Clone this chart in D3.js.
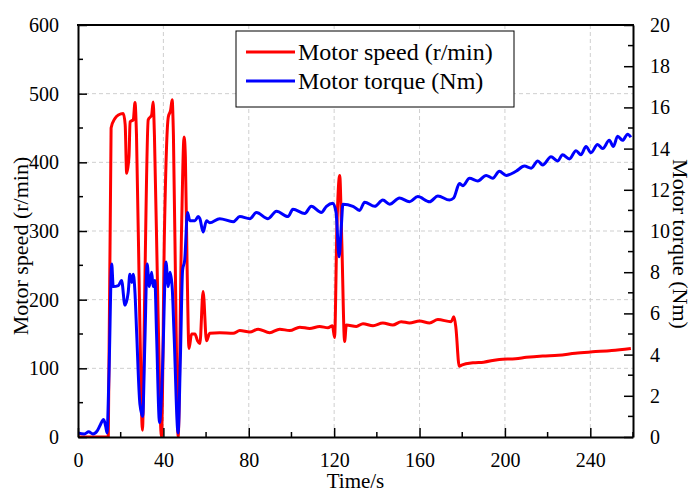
<!DOCTYPE html>
<html lang="en">
	<head>
		<title>Motor speed and torque</title>
		<meta charset="utf-8">
		<style>
			body {
				margin: 0;
				background: #fff;
			}

			.chart text {
				font-family: "Liberation Serif", "Times New Roman", serif;
				fill: black;
			}

			.chart .grid line {
				stroke: #cfcfcf;
				stroke-width: 1;
				stroke-dasharray: 4,3;
			}

			.chart .axis .domain {
				stroke: black;
				stroke-width: 2;
			}

			.chart .axis .tick line {
				stroke: black;
				stroke-width: 1.5;
			}
		</style>
	</head>

	<body>

		<div class="graph"></div>

		<script src="https://cdn.jsdelivr.net/npm/d3@7"></script>

		<script>

		// Speed curve (red, left axis)
		var speedTime = [0, 5, 10, 14.2, 15.5, 17.3, 18.9, 21.2, 22.1, 22.8, 23.9, 24.4, 25.9, 26.7, 27.4, 29, 30.2,
			31.2, 32.9, 34.5, 35.2, 35.8, 37.5, 39.1, 40.5, 42.3, 43.4, 44.1, 44.7, 46, 46.9, 48.5, 49.7, 50.3, 51.1,
			52, 53.2, 54.8, 56, 57.1, 58.6, 60.2, 61.7, 66.4, 72.7, 75.8, 80.5, 84.4, 89.8, 94.5, 99.2, 103.9, 108.5,
			113.2, 117.1, 119.2, 120.2, 121.3, 122.6, 123.6, 124.9, 125.7, 130.4, 133.5, 138.2, 142.8, 147.5, 151.4,
			155.3, 160, 164.7, 168.6, 174.8, 176.1, 177, 178.6, 180, 185, 190, 197.4, 205, 210, 217.7, 225, 233, 241,
			250, 259];
		var speed = [0, 0, 0, 0, 450, 464, 469, 471, 455, 384, 409, 459, 462, 487, 440, 160, 10,
			200, 462, 469, 488, 440, 180, 0, 300, 466, 476, 491, 440, 150, 0, 300, 437, 408, 250,
			129, 150, 150, 140, 136, 212, 140, 151, 152, 151, 155, 153, 157, 152, 157, 155, 160, 158,
			161, 159, 162, 145, 306, 381, 282, 139, 163, 161, 165, 162, 166, 163, 168,
			166, 169, 166, 171, 168, 175, 160, 103, 105, 108, 109, 113, 114, 116, 118, 119, 122, 124,
			126, 129];

		// Torque curve (blue, right axis)
		var torqueTime = [0, 3, 5, 7, 9, 10.5, 12, 13, 13.6, 14.5, 15.8, 16.5, 18.9, 20.4, 22, 23.5, 24.3, 25.2,
			25.9, 26.7, 27.5, 29, 30.3, 31.3, 32.4, 33.4, 34.5, 35.2, 36, 36.8, 38.2, 39.5, 41.2, 42.3, 43.1, 44.1,
			45, 46.9, 48, 49, 50, 51.3, 52.4, 54.8, 56.3, 57.1, 58.6, 60.2, 61.7, 66.4, 72.7, 75.8, 80.5, 83.6, 89,
			93, 98.4, 100.7, 106.2, 109.3, 114, 116.4, 119.4, 120.9, 122.3, 123.4, 124.1, 128.8, 131.9, 134.3, 139,
			142.8, 146, 150.6, 155.3, 159.2, 164.7, 168.6, 174, 176, 178.7, 180.3, 183.4, 187.3, 191.2, 194.3,
			197.4, 200.6, 205.2, 209.1, 212.3, 215.4, 217.7, 221.6, 224.7, 227, 230.2, 233.3, 235.6, 238, 240.3,
			243.4, 245.8, 248.9, 250.8, 252.8, 255.1, 257.5, 259];
		var torque = [0.2, 0.15, 0.25, 0.15, 0.3, 0.6, 0.85, 0.5, 0.2, 3, 8.4, 7.3, 7.35, 7.6, 6.4, 7.0, 7.9, 7.5,
			7.9, 7.0, 5, 1.6, 1.0, 4.5, 8.4, 7.3, 8.0, 7.3, 7.6, 5, 0.7, 3, 8.5, 7.3, 8.0, 7.3,
			5, 0.2, 4, 8.1, 8.6, 10.9, 10.5, 10.5, 10.7, 10.6, 9.95, 10.5, 10.4, 10.6, 10.45, 10.7, 10.6, 10.9, 10.6,
			10.96, 10.7, 11.05, 10.85, 11.2, 10.9, 11.2, 11.35, 10.9, 8.75, 10.3, 11.3, 11.2, 11.0, 11.4, 11.2,
			11.5, 11.3, 11.6, 11.42, 11.67, 11.42, 11.7, 11.5, 11.6, 12.3, 12.2, 12.56, 12.43, 12.7, 12.56,
			12.9, 12.7, 12.9, 13.15, 13.05, 13.4, 13.2, 13.6, 13.4, 13.7, 13.5, 13.9, 13.7, 14.1, 13.8,
			14.2, 14.0, 14.4, 14.1, 14.6, 14.4, 14.7, 14.55];

		// Tick values
		var xTicks = [0, 40, 80, 120, 160, 200, 240];
		var xMinor = [20, 60, 100, 140, 180, 220, 260];
		var speedTicks = [0, 100, 200, 300, 400, 500, 600];
		var speedMinor = [50, 150, 250, 350, 450, 550];
		var torqueTicks = [0, 2, 4, 6, 8, 10, 12, 14, 16, 18, 20];
		var torqueMinor = [1, 3, 5, 7, 9, 11, 13, 15, 17, 19];

		var seriesNames = ['Motor speed (r/min)', 'Motor torque (Nm)'];
		var seriesColors = ['#ff0000', '#0000ff'];

		var W = 694, H = 491;
		var plotL = 78, plotR = 633, plotT = 25, plotB = 437;

		var x = d3.scaleLinear().domain([0, 260]).range([plotL, plotR]);
		var yL = d3.scaleLinear().domain([0, 600]).range([plotB, plotT]);
		var yR = d3.scaleLinear().domain([0, 20]).range([plotB, plotT]);

		var svg = d3.select('.graph').append('svg')
			.attr('class', 'chart')
			.attr('width', W)
			.attr('height', H);

		svg.append('defs').append('clipPath').attr('id', 'plot-clip')
			.append('rect')
			.attr('x', plotL).attr('y', plotT - 2)
			.attr('width', plotR - plotL).attr('height', plotB - plotT + 2);

		// dashed grid from the major ticks
		var grid = svg.append('g').attr('class', 'grid');
		grid.selectAll('line.gx')
			.data(xTicks.filter(function(d) { return d > 0; }))
			.enter().append('line')
			.attr('x1', function(d) { return x(d); })
			.attr('x2', function(d) { return x(d); })
			.attr('y1', plotT).attr('y2', plotB);
		grid.selectAll('line.gy')
			.data(speedTicks.filter(function(d) { return d > 0 && d < 600; }))
			.enter().append('line')
			.attr('x1', plotL).attr('x2', plotR)
			.attr('y1', function(d) { return yL(d); })
			.attr('y2', function(d) { return yL(d); });

		// lines
		var speedData = speedTime.map(function(t, i) { return [t, speed[i]]; });
		var torqueData = torqueTime.map(function(t, i) { return [t, torque[i]]; });

		var speedLine = d3.line()
			.curve(d3.curveMonotoneX)
			.x(function(d) { return x(d[0]); })
			.y(function(d) { return yL(d[1]); });

		var torqueLine = d3.line()
			.curve(d3.curveMonotoneX)
			.x(function(d) { return x(d[0]); })
			.y(function(d) { return yR(d[1]); });

		var lines = svg.append('g').attr('clip-path', 'url(#plot-clip)');

		lines.append('path')
			.datum(speedData)
			.attr('d', speedLine)
			.attr('fill', 'none')
			.attr('stroke', seriesColors[0])
			.attr('stroke-width', 3)
			.attr('stroke-linejoin', 'round');

		lines.append('path')
			.datum(torqueData)
			.attr('d', torqueLine)
			.attr('fill', 'none')
			.attr('stroke', seriesColors[1])
			.attr('stroke-width', 3)
			.attr('stroke-linejoin', 'round');

		// axes, ticks pointing inwards
		function inward(axis, major, pad) {
			axis.tickValues(major).tickSizeInner(-9).tickSizeOuter(0).tickPadding(pad);
			return axis;
		}

		var xAxis = svg.append('g').attr('class', 'axis')
			.attr('transform', 'translate(0,' + plotB + ')')
			.call(inward(d3.axisBottom(x), xTicks, 16).tickFormat(d3.format('d')));
		xAxis.selectAll('.minor').data(xMinor).enter().append('line')
			.attr('class', 'minor')
			.attr('x1', function(d) { return x(d); })
			.attr('x2', function(d) { return x(d); })
			.attr('y1', 0).attr('y2', -5)
			.attr('stroke', 'black').attr('stroke-width', 1.5);

		var yAxisL = svg.append('g').attr('class', 'axis')
			.attr('transform', 'translate(' + plotL + ',0)')
			.call(inward(d3.axisLeft(yL), speedTicks, 19));
		yAxisL.selectAll('.minor').data(speedMinor).enter().append('line')
			.attr('class', 'minor')
			.attr('y1', function(d) { return yL(d); })
			.attr('y2', function(d) { return yL(d); })
			.attr('x1', 0).attr('x2', 5)
			.attr('stroke', 'black').attr('stroke-width', 1.5);

		var yAxisR = svg.append('g').attr('class', 'axis')
			.attr('transform', 'translate(' + plotR + ',0)')
			.call(inward(d3.axisRight(yR), torqueTicks, 17));
		yAxisR.selectAll('.minor').data(torqueMinor).enter().append('line')
			.attr('class', 'minor')
			.attr('y1', function(d) { return yR(d); })
			.attr('y2', function(d) { return yR(d); })
			.attr('x1', 0).attr('x2', -5)
			.attr('stroke', 'black').attr('stroke-width', 1.5);

		svg.selectAll('.axis .tick text').style('font-size', '20px');

		// top border
		svg.append('line')
			.attr('x1', plotL - 1).attr('x2', plotR + 1)
			.attr('y1', plotT).attr('y2', plotT)
			.attr('stroke', 'black').attr('stroke-width', 2);

		// axis titles
		svg.append('text')
			.attr('transform', 'translate(28,246) rotate(-90)')
			.style('text-anchor', 'middle')
			.style('font-size', '22px')
			.text('Motor speed (r/min)');

		svg.append('text')
			.attr('transform', 'translate(673,244) rotate(90)')
			.style('text-anchor', 'middle')
			.style('font-size', '22px')
			.text('Motor torque (Nm)');

		svg.append('text')
			.attr('x', (plotL + plotR) / 2)
			.attr('y', 488)
			.style('text-anchor', 'middle')
			.style('font-size', '21px')
			.text('Time/s');

		// legend
		var legend = svg.append('g').attr('transform', 'translate(236,31)');
		legend.append('rect')
			.attr('width', 278).attr('height', 76)
			.attr('fill', 'white')
			.attr('stroke', 'black').attr('stroke-width', 1);

		var items = legend.selectAll('g.item')
			.data(seriesNames)
			.enter().append('g')
			.attr('transform', function(d, i) { return 'translate(0,' + (21 + i * 29) + ')'; });

		items.append('line')
			.attr('x1', 10).attr('x2', 59)
			.attr('stroke', function(d, i) { return seriesColors[i]; })
			.attr('stroke-width', 3);

		items.append('text')
			.attr('x', 62)
			.attr('y', 8)
			.style('font-size', '24px')
			.text(function(d) { return d; });

		</script>

	</body>

</html>
